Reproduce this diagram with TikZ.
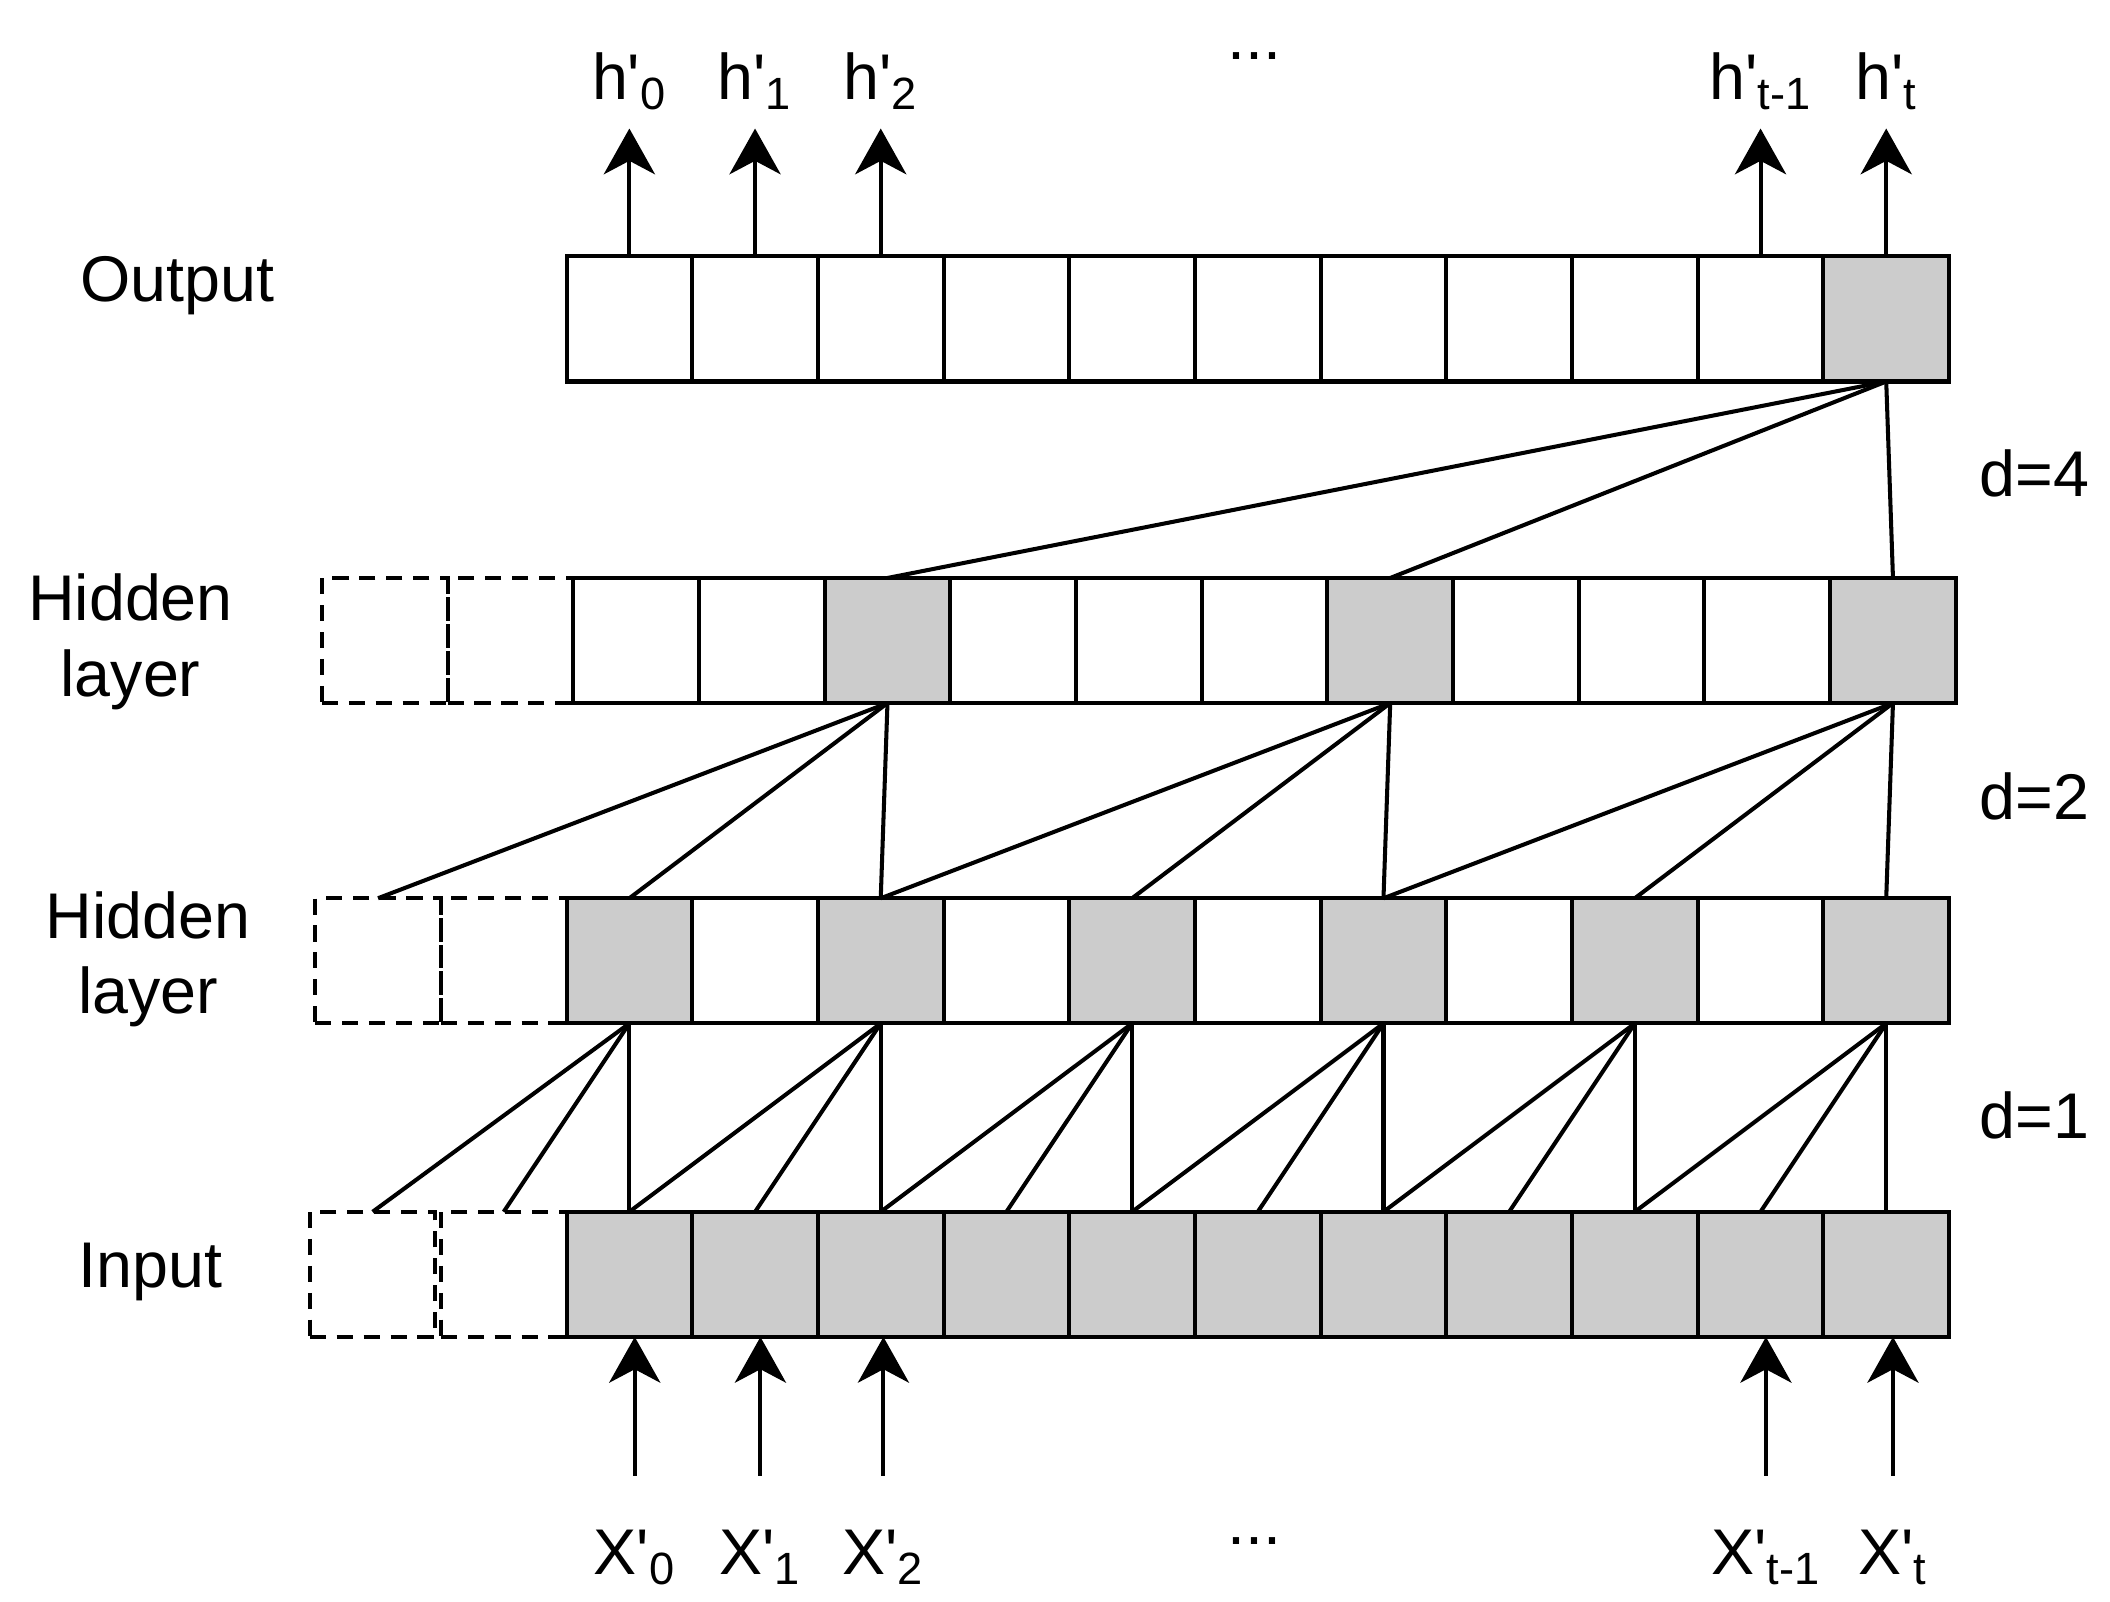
\documentclass[tikz,border=0pt]{standalone}
\usepackage{fontspec}
\setmainfont{Liberation Sans}
\usetikzlibrary{arrows.meta}
\begin{document}
\begin{tikzpicture}[x=0.5pt,y=-0.5pt,
  cell/.style={draw,line width=1.5pt,minimum width=46.7pt,minimum height=46.5pt,inner sep=0pt,outer sep=0pt},
  gcell/.style={cell,fill=black!20},
  dcell/.style={cell,dashed,dash pattern=on 6pt off 4pt},
  conn/.style={line width=1.5pt},
  arr/.style={line width=1.5pt,-{Stealth[length=17pt,width=19pt,inset=5pt]}},
  lab/.style={font=\fontsize{24}{28}\selectfont,align=center},
  idx/.style={font=\fontsize{24}{28}\selectfont}]
\useasboundingbox (0,0) rectangle (1568,1190);
\def\w{93.4}
% output
\foreach \i in {1,...,11}{
  \pgfmathsetmacro\cx{421+\w*(\i-0.5)}
  \ifnum\i=11 \node[gcell] (o\i) at (\cx,237) {}; \else \node[cell] (o\i) at (\cx,237) {}; \fi
}
% hidden 2
\foreach \i in {1,...,11}{
  \pgfmathsetmacro\cx{426+\w*(\i-0.5)}
  \pgfmathtruncatemacro\g{(\i==3)||(\i==7)||(\i==11)}
  \ifnum\g=1 \node[gcell] (a\i) at (\cx,476) {}; \else \node[cell] (a\i) at (\cx,476) {}; \fi
}
\node[dcell] (a0) at (426-\w*0.5,476) {};
\node[dcell] (a-1) at (426-\w*1.5,476) {};
% hidden 1
\foreach \i in {1,...,11}{
  \pgfmathsetmacro\cx{421+\w*(\i-0.5)}
  \pgfmathtruncatemacro\g{mod(\i,2)}
  \ifnum\g=1 \node[gcell] (b\i) at (\cx,714) {}; \else \node[cell] (b\i) at (\cx,714) {}; \fi
}
\node[dcell] (b0) at (421-\w*0.5,714) {};
\node[dcell] (b-1) at (421-\w*1.5,714) {};
% input
\foreach \i in {1,...,11}{
  \pgfmathsetmacro\cx{421+\w*(\i-0.5)}
  \node[gcell] (c\i) at (\cx,947) {};
}
\node[dcell] (c0) at (421-\w*0.5,947) {};
\node[dcell] (c-1) at (421-\w*1.5-4,947) {};
% d=4
\foreach \j in {3,7,11}{ \draw[conn] (o11.south) -- (a\j.north); }
% d=2
\foreach \k/\p/\q in {3/-1/1,7/3/5,11/7/9}{
  \draw[conn] (a\k.south) -- (b\p.north);
  \draw[conn] (a\k.south) -- (b\q.north);
  \draw[conn] (a\k.south) -- (b\k.north);
}
% d=1
\foreach \k in {1,3,5,7,9,11}{
  \pgfmathtruncatemacro\p{\k-2}
  \pgfmathtruncatemacro\q{\k-1}
  \draw[conn] (b\k.south) -- (c\p.north);
  \draw[conn] (b\k.south) -- (c\q.north);
  \draw[conn] (b\k.south) -- (c\k.north);
}
% output arrows
\foreach \i/\s in {1/0,2/1,3/2,10/{t-1},11/t}{
  \coordinate (ot\i) at ([yshift=47.5pt]o\i.north);
  \draw[arr] (o\i.north) -- (ot\i);
  \node[idx,anchor=base] (ol\i) at ([yshift=-3pt]o\i.north |- 0,68) {h\textquotesingle\textsubscript{\s}};
}
\node[idx] (odots) at (932,42) {...};
% input arrows
\foreach \i/\s/\dx in {1/0/4,2/1/4,3/2/2,10/{t-1}/4,11/t/5}{
  \coordinate (ib\i) at ([xshift=\dx*0.5pt,yshift=-51.5pt]c\i.south);
  \draw[arr] (ib\i) -- ([xshift=\dx*0.5pt]c\i.south);
  \node[idx,anchor=base] (il\i) at ([xshift=\dx*0.5pt]c\i.south |- 0,1170) {X\textquotesingle\textsubscript{\s}};
}
\node[idx] (idots) at (932,1145) {...};
% labels
\node[lab] (lo) at (132,212) {Output};
\node[lab] (lh2) at (97,477) {Hidden\\layer};
\node[lab] (lh1) at (110,713) {Hidden\\layer};
\node[lab] (li) at (112,945) {Input};
\node[lab] (d4) at (1512,352) {d=4};
\node[lab] (d2) at (1512,592) {d=2};
\node[lab] (d1) at (1512,829) {d=1};
\end{tikzpicture}
\end{document}
